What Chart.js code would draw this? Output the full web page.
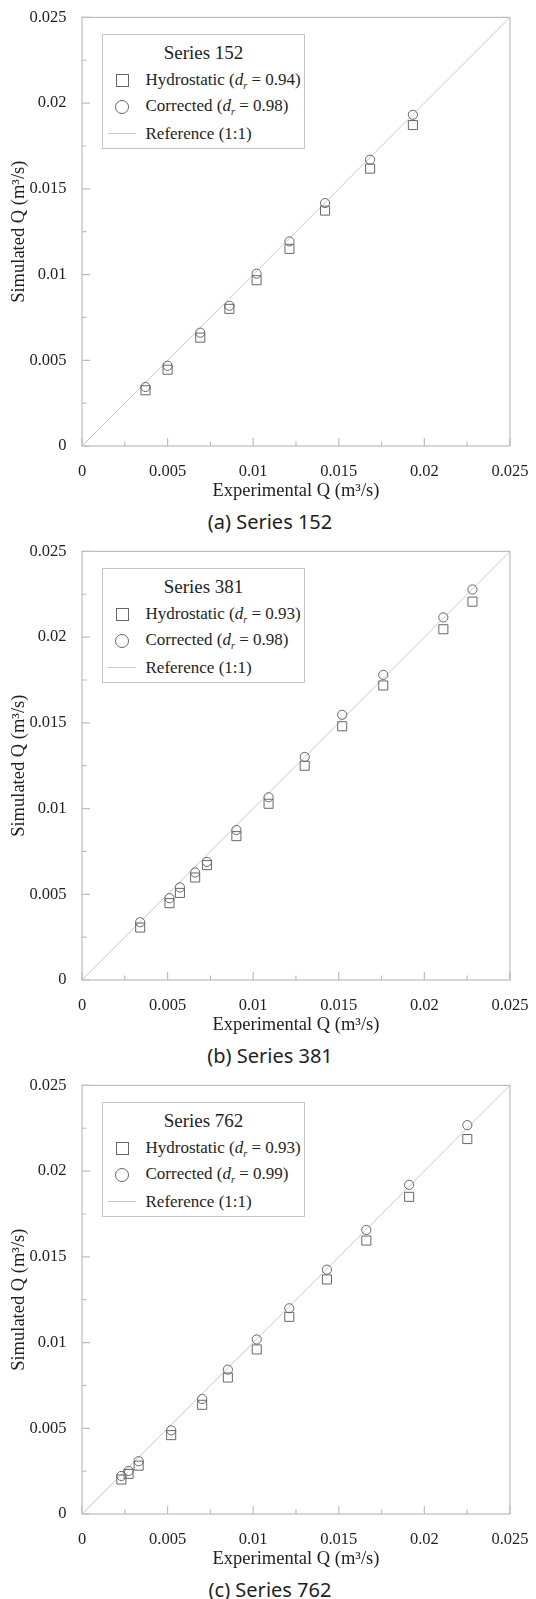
<!DOCTYPE html>
<html>
<head>
<meta charset="utf-8">
<title>Simulated vs experimental discharge</title>
<script src="https://cdn.jsdelivr.net/npm/chart.js@4.4.1/dist/chart.umd.min.js"></script>
<style>
  html, body { margin: 0; padding: 0; background: #fff; }
  #page { position: relative; width: 536px; height: 1599px; overflow: hidden; }
  .panel { position: absolute; left: 0; width: 536px; height: 534px; }
  .panel canvas { position: absolute; left: 0; top: 0; }
  .caption {
    position: absolute; left: 0; top: 510px; width: 540px;
    text-align: center; font: 20px 'Noto Sans', sans-serif; line-height: 24px; color: #1e1e1e;
  }
  .legend {
    position: absolute; box-sizing: border-box; width: 203px; height: 115px;
    border: 1px solid #c6c6c6; background: #fff;
    font-family: 'Liberation Serif', serif; color: #1e1e1e;
  }
  .legend .ttl { text-align: center; font-size: 19px; line-height: 24px; margin: 6px 0 2px; }
  .legend .row { display: flex; align-items: center; height: 26.5px; font-size: 17px; white-space: nowrap; }
  .legend .sym { width: 38px; height: 26px; display: flex; justify-content: center; align-items: center; }
  .legend .txt { padding-left: 4.5px; }
  .legend .sq { width: 11px; height: 11px; border: 1px solid #666; }
  .legend .ci { width: 12px; height: 12px; border: 1px solid #666; border-radius: 50%; }
  .legend .ln { width: 28px; height: 0; border-top: 1px solid #c8c8c8; }
  .legend sub { font-size: 0.6em; }
</style>
</head>
<body>
<div id="page"></div>
<script>
// Experimental vs simulated discharge (m3/s).
const EXP_152 = [0.00371, 0.0050, 0.00691, 0.00861, 0.0102, 0.01212, 0.0142, 0.01683, 0.01933];
const HYD_152 = [0.00325, 0.00445, 0.00632, 0.0080, 0.00967, 0.0115, 0.01373, 0.01618, 0.01872];
const COR_152 = [0.00344, 0.00468, 0.00661, 0.00818, 0.01005, 0.01193, 0.01417, 0.0167, 0.01932];
const DR_152 = [0.94, 0.98];

const EXP_381 = [0.0034, 0.00511, 0.00572, 0.00661, 0.0073, 0.00902, 0.0109, 0.01301, 0.0152, 0.0176, 0.02111, 0.02281];
const HYD_381 = [0.00306, 0.00448, 0.00508, 0.00598, 0.0067, 0.00839, 0.01028, 0.0125, 0.0148, 0.01718, 0.02046, 0.02207];
const COR_381 = [0.00337, 0.00477, 0.0054, 0.00627, 0.00689, 0.00875, 0.01066, 0.01301, 0.01547, 0.0178, 0.02115, 0.02278];
const DR_381 = [0.93, 0.98];

const EXP_762 = [0.0023, 0.00272, 0.00331, 0.00521, 0.00702, 0.00852, 0.01021, 0.01211, 0.01431, 0.01661, 0.01911, 0.02251];
const HYD_762 = [0.00201, 0.00234, 0.00282, 0.0046, 0.00637, 0.00796, 0.0096, 0.0115, 0.01368, 0.01595, 0.0185, 0.02187];
const COR_762 = [0.00222, 0.00251, 0.00308, 0.00488, 0.00671, 0.00842, 0.01018, 0.012, 0.01425, 0.01657, 0.0192, 0.02268];
const DR_762 = [0.93, 0.99];

const SERIES_NAMES = ['152', '381', '762'];
const PANEL_LETTERS = ['a', 'b', 'c'];
const LEGEND_NAMES = ['Hydrostatic', 'Corrected', 'Reference (1:1)'];
const REF_LINE = [0, 0.025];
const MAJOR_TICKS = [0, 0.005, 0.01, 0.015, 0.02, 0.025];
const MINOR_TICKS = [0.0025, 0.0075, 0.0125, 0.0175, 0.0225];
const TICK_LABELS = ['0', '0.005', '0.01', '0.015', '0.02', '0.025'];
const X_TITLE = 'Experimental Q (m\u00b3/s)';
const Y_TITLE = 'Simulated Q (m\u00b3/s)';

const INK = '#1e1e1e';
const FRAME = '#bdbdbd';
const MARK = '#666666';
const REF = '#c8c8c8';
const SERIF = "'Liberation Serif', 'Times New Roman', serif";
const PANEL_PITCH = 534;

const pairs = (xs, ys) => xs.map((x, i) => ({ x, y: ys[i] }));

// plot frame plus the short inward tick marks
const frame = {
    id: 'frame',
    beforeDatasetsDraw(chart) {
        const { ctx, chartArea: a, scales: { x, y } } = chart;
        ctx.save();
        ctx.strokeStyle = FRAME;
        ctx.lineWidth = 1.2;
        ctx.strokeRect(a.left, a.top, a.width, a.height);
        ctx.beginPath();
        const mark = (v, len) => {
            const px = x.getPixelForValue(v);
            const py = y.getPixelForValue(v);
            ctx.moveTo(px, a.bottom); ctx.lineTo(px, a.bottom - len);
            ctx.moveTo(a.left, py); ctx.lineTo(a.left + len, py);
        };
        MAJOR_TICKS.forEach(v => mark(v, 8));
        MINOR_TICKS.forEach(v => mark(v, 4.5));
        ctx.stroke();
        ctx.restore();
    },
};

// legend box as HTML so d_r can be italic with a subscript
const htmlLegend = {
    id: 'htmlLegend',
    afterUpdate(chart, args, opts) {
        const box = opts.el;
        box.style.left = (chart.chartArea.left + 20) + 'px';
        box.style.top = (chart.chartArea.top + 17) + 'px';
        const syms = ['sq', 'ci', 'ln'];
        let html = '<div class="ttl">' + opts.title + '</div>';
        LEGEND_NAMES.forEach((name, i) => {
            let txt = name;
            if (i < 2) txt += ' (<i>d<sub>r</sub></i> = ' + opts.dr[i].toFixed(2) + ')';
            html += '<div class="row"><span class="sym"><span class="' + syms[i] + '"></span></span>' +
                '<span class="txt">' + txt + '</span></div>';
        });
        box.innerHTML = html;
    },
};

function axis(title, isX) {
    return {
        type: 'linear',
        min: 0,
        max: 0.025,
        afterBuildTicks: s => { s.ticks = MAJOR_TICKS.map(v => ({ value: v })); },
        afterFit: s => { if (isX) s.height = 60; else s.width = 82; },
        grid: { display: false },
        border: { display: false },
        ticks: {
            color: INK,
            padding: 7.5,
            autoSkip: false,
            maxRotation: 0,
            font: { family: SERIF, size: 16.5 },
            callback: (v, i) => TICK_LABELS[i],
        },
        title: {
            display: true,
            text: title,
            color: INK,
            font: { family: SERIF, size: 18.5 },
            padding: isX ? { top: 0, bottom: 4 } : { top: 8, bottom: 0 },
        },
    };
}

const PANELS = [
    { exp: EXP_152, hyd: HYD_152, cor: COR_152, dr: DR_152 },
    { exp: EXP_381, hyd: HYD_381, cor: COR_381, dr: DR_381 },
    { exp: EXP_762, hyd: HYD_762, cor: COR_762, dr: DR_762 },
];

const page = document.getElementById('page');

PANELS.forEach((p, i) => {
    const div = document.createElement('div');
    div.className = 'panel';
    div.style.top = (i * PANEL_PITCH) + 'px';
    const canvas = document.createElement('canvas');
    canvas.width = 536;
    canvas.height = 506;
    const legend = document.createElement('div');
    legend.className = 'legend';
    const cap = document.createElement('div');
    cap.className = 'caption';
    cap.textContent = '(' + PANEL_LETTERS[i] + ') Series ' + SERIES_NAMES[i];
    div.append(canvas, legend, cap);
    page.appendChild(div);

    new Chart(canvas, {
        type: 'scatter',
        data: {
            datasets: [
                {
                    label: LEGEND_NAMES[0],
                    data: pairs(p.exp, p.hyd),
                    pointStyle: 'rect',
                    pointRadius: 6.4,
                    borderColor: MARK,
                    backgroundColor: 'rgba(0,0,0,0)',
                    borderWidth: 1,
                },
                {
                    label: LEGEND_NAMES[1],
                    data: pairs(p.exp, p.cor),
                    pointStyle: 'circle',
                    pointRadius: 4.6,
                    borderColor: MARK,
                    backgroundColor: 'rgba(0,0,0,0)',
                    borderWidth: 1,
                },
                {
                    label: LEGEND_NAMES[2],
                    data: pairs(REF_LINE, REF_LINE),
                    showLine: true,
                    pointRadius: 0,
                    borderColor: REF,
                    borderWidth: 1,
                },
            ],
        },
        options: {
            responsive: false,
            animation: false,
            layout: { padding: { top: 14, right: 19.5, left: 0, bottom: 0 } },
            plugins: {
                legend: { display: false },
                tooltip: { enabled: false },
                htmlLegend: { el: legend, title: 'Series ' + SERIES_NAMES[i], dr: p.dr },
            },
            scales: {
                x: axis(X_TITLE, true),
                y: axis(Y_TITLE, false),
            },
        },
        plugins: [frame, htmlLegend],
    });
});
</script>
</body>
</html>
